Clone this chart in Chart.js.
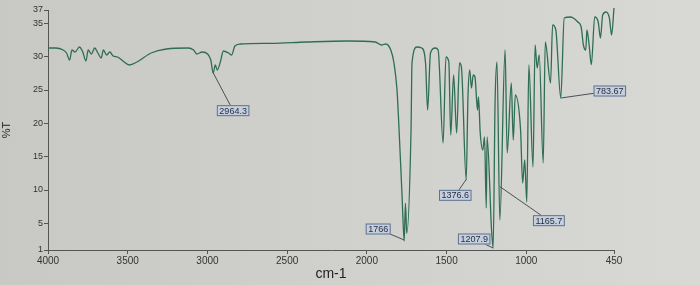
<!DOCTYPE html>
<html>
<head>
<meta charset="utf-8">
<script src="https://cdn.jsdelivr.net/npm/chart.js@4.4.1/dist/chart.umd.min.js"></script>
<style>
  html, body { margin: 0; padding: 0; background: #cfcfcb; }
  #wrap { width: 700px; height: 285px; }
</style>
</head>
<body>
<div id="wrap"><canvas id="irChart" width="700" height="285"></canvas></div>
<script>
// IR spectrum (wavenumber cm-1, %T)
const wavenumbers = [
  4000, 3952, 3905, 3884, 3864, 3850, 3830, 3803, 3782, 3762,
  3748, 3728, 3707, 3687, 3666, 3653, 3632, 3612, 3591, 3564,
  3530, 3489, 3442, 3353, 3258, 3121, 3087, 3067, 3033, 2999,
  2979, 2964, 2951, 2938, 2919, 2900, 2867, 2848, 2828, 2796,
  2600, 2381, 2122, 1947, 1908, 1882, 1850, 1830, 1811, 1798,
  1779, 1766, 1758, 1750, 1723, 1717, 1686, 1656, 1632, 1619,
  1601, 1571, 1553, 1522, 1504, 1486, 1474, 1456, 1437, 1419,
  1407, 1377, 1366, 1355, 1344, 1333, 1322, 1306, 1300, 1289,
  1273, 1262, 1251, 1246, 1218, 1208, 1196, 1184, 1166, 1133,
  1120, 1094, 1082, 1069, 1036, 1023, 1010, 997, 984, 958,
  945, 932, 919, 894, 881, 848, 835, 815, 784, 762,
  727, 705, 677, 656, 642, 627, 620, 606, 592, 571,
  549, 535, 521, 500, 479, 465, 450
];
const transmittance = [
  31.3, 31.3, 31.0, 30.55, 29.5, 31.0, 30.7, 31.45, 30.7, 29.35,
  31.0, 30.4, 31.3, 30.55, 29.8, 31.0, 30.25, 30.7, 30.1, 29.95,
  29.35, 28.75, 29.2, 30.55, 31.15, 31.3, 31.0, 30.4, 30.7, 30.4,
  29.5, 27.55, 28.75, 28.0, 29.2, 30.85, 30.55, 30.25, 31.6, 31.9,
  32.0, 32.2, 32.35, 32.2, 31.75, 31.9, 31.0, 29.05, 25.0, 19.0,
  8.95, 2.35, 8.0, 3.5, 19.0, 29.05, 31.45, 31.3, 29.05, 22.0,
  30.55, 31.3, 31.0, 17.05, 29.95, 29.2, 18.25, 27.25, 18.55, 29.05,
  28.45, 11.5, 23.95, 28.0, 25.3, 27.25, 26.95, 22.0, 23.95, 18.55,
  16.0, 17.95, 7.3, 17.95, 4.0, 1.3, 23.05, 29.2, 5.5, 31.0,
  15.55, 26.05, 17.5, 24.25, 19.0, 11.05, 14.5, 8.2, 28.75, 13.45,
  31.75, 28.3, 30.25, 14.05, 32.2, 26.05, 34.75, 34.0, 23.8, 35.8,
  35.95, 35.8, 35.2, 34.45, 31.75, 31.0, 34.0, 31.75, 28.8, 35.95,
  35.2, 32.8, 36.25, 36.7, 35.8, 33.25, 37.3
];

const xTicks = [4000, 3500, 3000, 2500, 2000, 1500, 1000, 450];
const yTicks = [1, 5, 10, 15, 20, 25, 30, 35, 37];

// peak picks printed on the spectrum
const peakLabels = ["2964.3", "1766", "1376.6", "1207.9", "1165.7", "783.67"];
const peakWn = [2964.3, 1766, 1376.6, 1207.9, 1165.7, 783.67];
const peakT = [27.6, 2.5, 11.6, 1.3, 10.5, 23.8];
// where each label box sits, px from the peak tip
const labelOffsets = [[20, 38], [-26, -11], [-11, 16], [-19, -9], [49, 34], [49, -7]];

const points = wavenumbers.map((w, i) => ({ x: w, y: transmittance[i] }));

const paperBg = {
  id: "paperBg",
  beforeDraw(chart) {
    const c = chart.ctx;
    const g = c.createLinearGradient(0, 0, chart.width, 0);
    g.addColorStop(0, "#c8c8c4");
    g.addColorStop(1, "#d8d8d4");
    c.save();
    c.fillStyle = g;
    c.fillRect(0, 0, chart.width, chart.height);
    c.restore();
  }
};

const peakPicks = {
  id: "peakPicks",
  afterDatasetsDraw(chart) {
    const c = chart.ctx;
    const xs = chart.scales.x, ys = chart.scales.y;
    c.save();
    c.font = "9px 'Liberation Sans', Arial, sans-serif";
    c.textBaseline = "middle";
    c.textAlign = "center";
    peakLabels.forEach((txt, i) => {
      const px = xs.getPixelForValue(peakWn[i]);
      const py = ys.getPixelForValue(peakT[i]);
      const bx = px + labelOffsets[i][0];
      const by = py + labelOffsets[i][1];
      const w = c.measureText(txt).width + 5;
      const h = 11;
      c.strokeStyle = "#4a5058";
      c.lineWidth = 1;
      c.beginPath();
      c.moveTo(px, py);
      c.lineTo(bx, by);
      c.stroke();
      c.fillStyle = "#c6cfdb";
      c.fillRect(bx - w / 2, by - h / 2, w, h);
      c.strokeStyle = "#5d7391";
      c.strokeRect(bx - w / 2 + 0.5, by - h / 2 + 0.5, w - 1, h - 1);
      c.fillStyle = "#1f2b45";
      c.fillText(txt, bx, by + 0.5);
    });
    c.restore();
  }
};

const plainNum = v => String(v);

new Chart(document.getElementById("irChart").getContext("2d"), {
  type: "line",
  data: {
    datasets: [{
      data: points,
      borderColor: "#2f6e55",
      borderWidth: 1.3,
      pointRadius: 0,
      cubicInterpolationMode: "monotone",
      clip: false
    }]
  },
  options: {
    responsive: false,
    animation: false,
    layout: { padding: { left: 0, right: 86, top: 10, bottom: 0 } },
    plugins: { legend: { display: false }, tooltip: { enabled: false } },
    scales: {
      x: {
        type: "linear",
        reverse: true,
        min: 450,
        max: 4000,
        afterBuildTicks: s => { s.ticks = xTicks.map(v => ({ value: v })); },
        afterFit: s => { s.height = 35; },
        grid: { display: true, drawOnChartArea: false, tickLength: 4, color: "#555" },
        border: { color: "#555", width: 1 },
        ticks: { callback: plainNum, color: "#333", font: { size: 10, family: "'Liberation Sans', Arial" }, padding: 1, maxRotation: 0, autoSkip: false },
        title: { display: true, text: "cm-1", color: "#222", font: { size: 14, family: "'Liberation Sans', Arial" }, padding: { top: 0, bottom: 2 } }
      },
      y: {
        min: 1,
        max: 37,
        afterBuildTicks: s => { s.ticks = yTicks.map(v => ({ value: v })); },
        afterFit: s => { s.width = 48; },
        grid: { display: true, drawOnChartArea: false, tickLength: 4, color: "#555" },
        border: { color: "#555", width: 1 },
        ticks: { callback: plainNum, color: "#333", font: { size: 9, family: "'Liberation Sans', Arial" }, padding: 1, autoSkip: false },
        title: { display: true, text: "%T", color: "#222", font: { size: 11, family: "'Liberation Sans', Arial" }, padding: { top: 0, bottom: 4 } }
      }
    }
  },
  plugins: [paperBg, peakPicks]
});
</script>
</body>
</html>
